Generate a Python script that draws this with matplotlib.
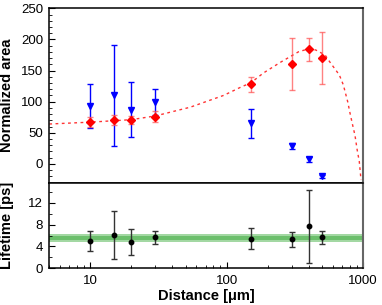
import matplotlib
matplotlib.use("Agg")
import matplotlib.pyplot as plt
from matplotlib.ticker import MultipleLocator, LogLocator, NullFormatter, FixedLocator, FixedFormatter

plt.rcParams["font.family"] = ["Liberation Sans", "DejaVu Sans"]

# distances (um)
dist = [10, 15, 20, 30, 150, 300, 400, 500]

# normalized area, red series
area_red = [67, 71, 70.5, 76, 128, 161, 184, 170]
area_red_err = [8, 8, 6, 9, 12, 42, 19, 42]

# normalized area, blue series
area_blue = [93, 110, 87, 99, 65, 29, 7.5, -20]
area_blue_err = [35, 81, 44, 21, 23, 5, 4, 2]

# fit curve
fit_x = [5, 10, 20, 30, 54, 95, 129, 150, 186, 247, 336, 400, 450, 527, 557,
         606, 670, 717, 772, 804, 840, 873, 907, 939, 967]
fit_y = [64, 67, 71, 77, 91, 110, 124, 130, 146, 163, 180, 185, 183, 175, 167,
         156, 143, 127, 100, 81, 62, 46, 22, 4, -26]

# lifetime (ps)
life = [5.0, 6.1, 4.85, 5.65, 5.4, 5.3, 7.7, 5.7]
life_err = [1.9, 4.45, 2.4, 1.25, 1.9, 1.4, 6.7, 1.2]
life_mean = 5.6
life_band_inner = 0.4
life_band_outer = 0.75

W, H = 382, 305
fig = plt.figure(figsize=(W / 100, H / 100), dpi=100)
left, right = 49.3, 363
ax1 = fig.add_axes([left / W, 1 - 182.5 / H, (right - left) / W, (182.5 - 8.3) / H])
ax2 = fig.add_axes([left / W, 1 - 268.3 / H, (right - left) / W, (268.3 - 182.5) / H])

# top panel
ax1.plot(fit_x, fit_y, color="red", lw=1.0, ls=(0, (2, 2.5)), alpha=0.8, zorder=2)
ax1.errorbar(dist, area_blue, yerr=area_blue_err, fmt="v", color="blue", ms=5,
             ecolor="blue", elinewidth=1.0, capsize=2, capthick=1.0, zorder=3)
ax1.errorbar(dist, area_red, yerr=area_red_err, fmt="D", color="red", ms=4.2,
             ecolor=(1, 0.3, 0.3, 0.7), elinewidth=1.0, capsize=2, capthick=1.0, zorder=4)
ax1.set_xscale("log")
ax1.set_xlim(5, 1000)
ax1.set_ylim(-30, 250)
ax1.yaxis.set_major_locator(MultipleLocator(50))
ax1.yaxis.set_minor_locator(MultipleLocator(10))
ax1.tick_params(axis="x", which="both", bottom=False, labelbottom=False)
ax1.set_ylabel("Normalized area", fontsize=10.5, fontweight="bold")
ax1.yaxis.set_label_coords(-0.112, 0.5)

# bottom panel
ax2.axhspan(life_mean - life_band_outer, life_mean + life_band_outer, color="#a3d8a3", lw=0, zorder=1)
ax2.axhspan(life_mean - life_band_inner, life_mean + life_band_inner, color="#6cbf6c", lw=0, zorder=1)
ax2.errorbar(dist, life, yerr=life_err, fmt="o", color="black", ms=3.2,
             ecolor="#333333", elinewidth=1.0, capsize=2, capthick=1.0, zorder=3)
ax2.set_xscale("log")
ax2.set_xlim(5, 1000)
ax2.set_ylim(0, 15.7)
ax2.yaxis.set_major_locator(MultipleLocator(4))
ax2.yaxis.set_minor_locator(MultipleLocator(2))
ax2.xaxis.set_major_locator(FixedLocator([10, 100, 1000]))
ax2.xaxis.set_major_formatter(FixedFormatter(["10", "100", "1000"]))
ax2.xaxis.set_minor_locator(LogLocator(base=10, subs=range(2, 10)))
ax2.xaxis.set_minor_formatter(NullFormatter())
ax2.set_ylabel("Lifetime [ps]", fontsize=10.5, fontweight="bold")
ax2.yaxis.set_label_coords(-0.112, 0.5)
ax2.set_xlabel("Distance [\u03bcm]", fontsize=10.5, fontweight="bold", labelpad=2)

for ax in (ax1, ax2):
    ax.tick_params(which="both", direction="in", labelsize=9.5, pad=4.5,
                   right=False, top=False)
    ax.tick_params(which="major", length=4.5, width=0.8)
    ax.tick_params(which="minor", length=2.5, width=0.6)
    for s in ("left", "top", "bottom"):
        ax.spines[s].set_linewidth(1.1)
        ax.spines[s].set_color("black")
    ax.spines["right"].set_color("#666666")
    ax.spines["right"].set_linewidth(1.5)

fig.savefig("out.png", dpi=100)
